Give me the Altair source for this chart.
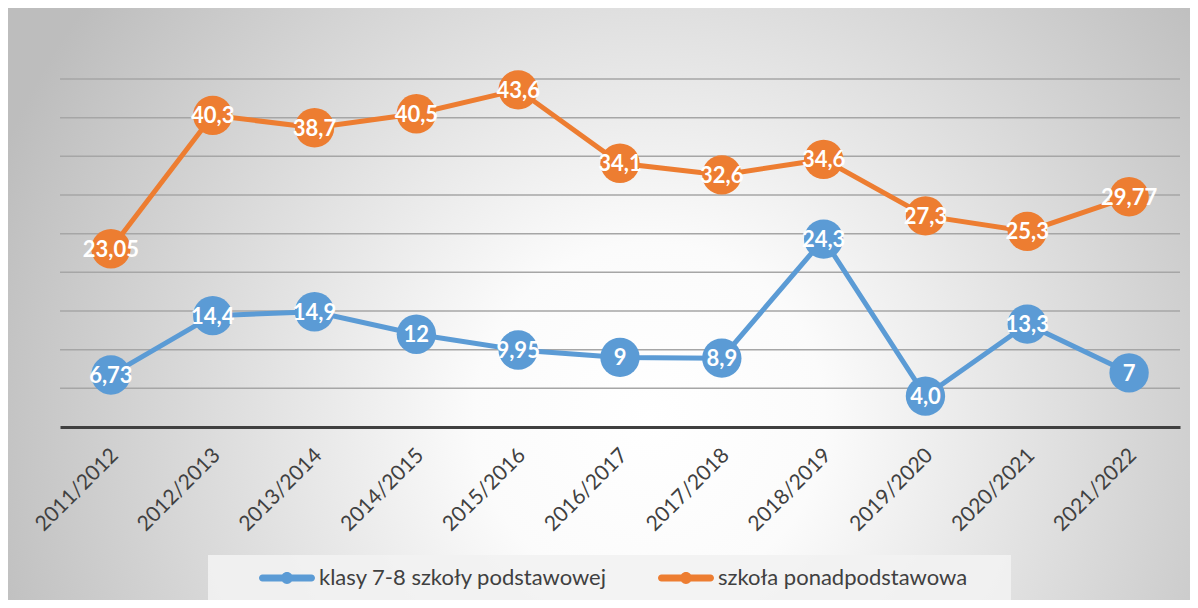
import altair as alt
import pandas as pd

# ---- data ----
years = ["2011/2012", "2012/2013", "2013/2014", "2014/2015", "2015/2016", "2016/2017",
         "2017/2018", "2018/2019", "2019/2020", "2020/2021", "2021/2022"]
series_names = ["klasy 7-8 szkoły podstawowej", "szkoła ponadpodstawowa"]
blue_values = [6.73, 14.4, 14.9, 12, 9.95, 9, 8.9, 24.3, 4.0, 13.3, 7]
blue_labels = ["6,73", "14,4", "14,9", "12", "9,95", "9", "8,9", "24,3", "4,0", "13,3", "7"]
orange_values = [23.05, 40.3, 38.7, 40.5, 43.6, 34.1, 32.6, 34.6, 27.3, 25.3, 29.77]
orange_labels = ["23,05", "40,3", "38,7", "40,5", "43,6", "34,1", "32,6", "34,6", "27,3", "25,3", "29,77"]
series_colors = ["#5B9BD5", "#ED7D31"]
y_grid_values = [5, 10, 15, 20, 25, 30, 35, 40, 45]

rows = []
for name, vals, labs in [(series_names[0], blue_values, blue_labels),
                         (series_names[1], orange_values, orange_labels)]:
    for yr, v, lab in zip(years, vals, labs):
        rows.append({"year": yr, "value": v, "label": lab, "series": name})
df = pd.DataFrame(rows)
grid_df = pd.DataFrame({"value": y_grid_values})

W, H = 1120, 348
PAD = {"left": 52, "top": 71, "right": 10, "bottom": 173}
FONT = "Lato"

x_enc = alt.X(
    "year:N", sort=years,
    scale=alt.Scale(type="point", domain=years, padding=0.5),
    axis=alt.Axis(title=None, labelAngle=-45, labelAlign="right", labelBaseline="top",
                  labelFont=FONT, labelFontSize=21, labelColor="#404040", labelPadding=17,
                  labelOffset=-4, ticks=False, domainColor="#404040", domainWidth=3,
                  grid=False, zindex=1),
)
y_scale = alt.Scale(domain=[0, 45], nice=False, zero=True)
y_enc = alt.Y("value:Q", scale=y_scale, axis=None)
color_scale = alt.Scale(domain=series_names, range=series_colors)

legend_symbol = ("M-0.875,-0.125 L0.875,-0.125 A0.125,0.125 0 0,1 0.875,0.125 "
                 "L-0.875,0.125 A0.125,0.125 0 0,1 -0.875,-0.125 Z "
                 "M-0.21,0 A0.21,0.21 0 1,1 0.21,0 A0.21,0.21 0 1,1 -0.21,0 Z")
legend = alt.Legend(title=None, orient="none", legendX=199, legendY=471,
                    direction="horizontal", symbolType=legend_symbol,
                    symbolSize=3136, symbolStrokeWidth=0, symbolOpacity=1,
                    labelFont=FONT, labelFontSize=22, labelColor="#404040",
                    labelOffset=4, columnPadding=50, labelLimit=500, zindex=1)
color_enc = alt.Color("series:N", scale=color_scale, sort=series_names, legend=legend)

# background with radial gradient (decoration)
bg = alt.Chart(alt.Data(values=[{}])).mark_rect(
    fill=alt.RadialGradient(
        gradient="radial",
        stops=[alt.GradientStop(offset=0, color="#ffffff"),
               alt.GradientStop(offset=0.25, color="#fbfbfb"),
               alt.GradientStop(offset=1, color="#bdbdbd")],
        x1=0.5, y1=0.5, x2=0.5, y2=0.5, r1=0, r2=0.5,
    ),
).encode(x=alt.value(-110), x2=alt.value(1290), y=alt.value(-360), y2=alt.value(1040))

legend_box = alt.Chart(alt.Data(values=[{}])).mark_rect(fill="#f2f2f2", opacity=0.9).encode(
    x=alt.value(148), x2=alt.value(951), y=alt.value(476), y2=alt.value(522)
)

grid = alt.Chart(grid_df).mark_rule(color="#a6a6a6", strokeWidth=1.5).encode(
    y=alt.Y("value:Q", scale=y_scale, axis=None), x=alt.value(0), x2=alt.value(W)
)

base = alt.Chart(df)

lines = base.mark_line(strokeWidth=5).encode(x=x_enc, y=y_enc, color=color_enc)
points = base.mark_point(filled=True, opacity=1, size=1550, strokeWidth=0).encode(
    x=x_enc, y=y_enc, color=color_enc,
)
texts = base.mark_text(font=FONT, fontWeight="bold", fontSize=22, color="white",
                       align="center", baseline="middle", dy=1).encode(
    x=x_enc, y=y_enc, text="label:N",
)

chart = alt.layer(bg, legend_box, grid, lines, points, texts).properties(
    width=W, height=H, padding=PAD, autosize=alt.AutoSizeParams(type="none"),
    background="white",
).configure_view(stroke=None)

chart.save("out.html", embed_options={"renderer": "svg", "actions": False})
